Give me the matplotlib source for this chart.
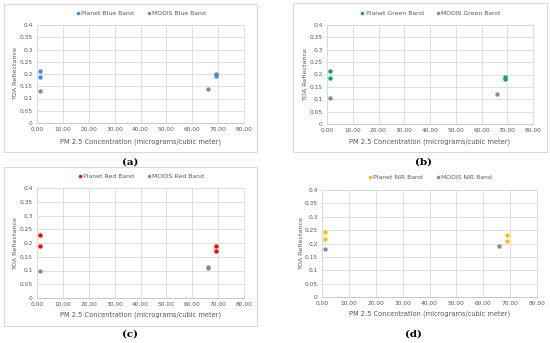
import matplotlib
matplotlib.use("Agg")
import matplotlib.pyplot as plt
from matplotlib.patches import Rectangle

W, H = 550, 343
fig = plt.figure(figsize=(W / 100, H / 100), dpi=100)
fig.patch.set_facecolor("white")

# Data
band_names = ["Blue", "Green", "Red", "NIR"]
planet_colors = ["#3C8FE0", "#00B050", "#FF0000", "#FFC000"]
modis_color = "#8C8C8C"
captions = ["a", "b", "c", "d"]

planet_x = [[1, 1, 69, 69], [1, 1, 69, 69], [1, 1, 69, 69], [1, 1, 69, 69]]
planet_y = [[0.212, 0.187, 0.198, 0.190],
            [0.213, 0.184, 0.190, 0.182],
            [0.229, 0.189, 0.188, 0.172],
            [0.242, 0.218, 0.232, 0.210]]
modis_x = [[1, 66], [1, 66], [1, 66, 66], [1, 66]]
modis_y = [[0.130, 0.140],
           [0.107, 0.120],
           [0.100, 0.114, 0.108],
           [0.180, 0.190]]

x_ticks = [0, 10, 20, 30, 40, 50, 60, 70, 80]
y_ticks = [0, 0.05, 0.1, 0.15, 0.2, 0.25, 0.3, 0.35, 0.4]
y_tick_labels = ["0", "0.05", "0.1", "0.15", "0.2", "0.25", "0.3", "0.35", "0.4"]

# Layout in pixels: (left, right, top, bottom)
axes_px = [(37, 244, 25, 123), (327, 533, 25, 124), (37, 244, 188, 298), (322, 537, 190, 297)]
legend_y = [13, 13, 176, 177]
ylabel_x = [16, 306, 16, 302]
xlabel_y = [142, 142, 315, 314]
caption_pos = [(130, 162), (423, 162), (130, 334), (413, 334)]
boxes = [(4, 257, 4, 152), (293, 547, 3, 152), (4, 257, 167, 326), None]

def fx(px):
    return px / W

def fy(py):
    return 1 - py / H

for i in range(4):
    b = boxes[i]
    if b is not None:
        l, r, t, bt = b
        fig.patches.append(Rectangle((fx(l), fy(bt)), fx(r) - fx(l), fy(t) - fy(bt),
                                     transform=fig.transFigure, fill=False,
                                     edgecolor="#D9D9D9", linewidth=0.8, zorder=0))
    l, r, t, bt = axes_px[i]
    ax = fig.add_axes([fx(l), fy(bt), fx(r) - fx(l), fy(t) - fy(bt)])
    ax.scatter(planet_x[i], planet_y[i], s=10, color=planet_colors[i], zorder=3,
               label=f"Planet {band_names[i]} Band", linewidths=0)
    ax.scatter(modis_x[i], modis_y[i], s=10, color=modis_color, zorder=3,
               label=f"MODIS {band_names[i]} Band", linewidths=0)
    ax.set_xlim(0, 80)
    ax.set_ylim(0, 0.4)
    ax.set_xticks(x_ticks)
    ax.set_xticklabels([f"{v:.2f}" for v in x_ticks])
    ax.set_yticks(y_ticks)
    ax.set_yticklabels(y_tick_labels)
    ax.tick_params(axis="both", length=0, labelsize=4.2, colors="#595959", pad=3)
    ax.grid(True, color="#D9D9D9", linewidth=0.6)
    ax.set_axisbelow(True)
    for s in ax.spines.values():
        s.set_color("#D9D9D9")
        s.set_linewidth(0.6)
    ax.spines["bottom"].set_color("#BFBFBF")
    # axis labels
    fig.text(fx(ylabel_x[i]), fy((t + bt) / 2), "TOA Reflectance", rotation=90,
             ha="center", va="center", fontsize=4.6, color="#595959")
    fig.text(fx((l + r) / 2), fy(xlabel_y[i]), "PM 2.5 Concentration (micrograms/cubic meter)",
             ha="center", va="center", fontsize=4.8, color="#595959")
    leg = fig.legend(handles=ax.collections, labels=[f"Planet {band_names[i]} Band", f"MODIS {band_names[i]} Band"],
                     loc="center", bbox_to_anchor=(fx((l + r) / 2), fy(legend_y[i])),
                     ncol=2, frameon=False, fontsize=4.4, handletextpad=0.1,
                     columnspacing=2.0, markerscale=0.8, handlelength=0.8)
    for txt in leg.get_texts():
        txt.set_color("#595959")
    cx, cy = caption_pos[i]
    fig.text(fx(cx), fy(cy), f"({captions[i]})", ha="center", va="center",
             fontsize=7.5, fontweight="bold", family="DejaVu Serif", color="black")

fig.savefig("out.png", dpi=100, facecolor="white")
